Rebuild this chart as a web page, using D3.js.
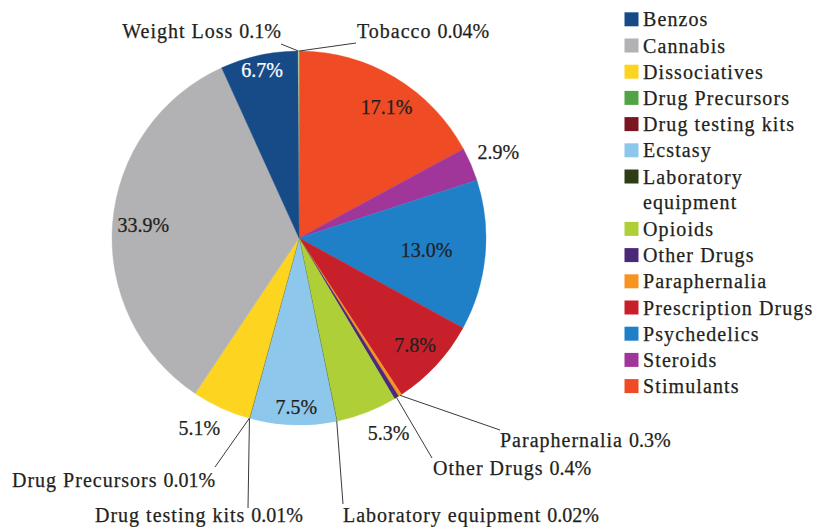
<!DOCTYPE html>
<html>
<head>
<meta charset="utf-8">
<script src="https://cdn.jsdelivr.net/npm/d3@7/dist/d3.min.js"></script>
</head>
<body style="margin:0;background:#fff">
<svg id="chart" width="815" height="527" style="display:block"></svg>
<script>
// Market share by listing category (percent of listings)
const categories = [
  "Benzos", "Cannabis", "Dissociatives", "Drug Precursors", "Drug testing kits",
  "Ecstasy", "Laboratory equipment", "Opioids", "Other Drugs", "Paraphernalia",
  "Prescription Drugs", "Psychedelics", "Steroids", "Stimulants", "Tobacco", "Weight Loss"
];
const shares = [6.7, 33.9, 5.1, 0.01, 0.01, 7.5, 0.02, 5.3, 0.4, 0.3, 7.8, 13.0, 2.9, 17.1, 0.04, 0.1];
const colors = [
  "#164b88", "#b2b2b5", "#fdd41f", "#52a344", "#7b1522",
  "#8dc8ec", "#2f3d17", "#aecf37", "#4a2a78", "#f79321",
  "#c7202a", "#1f80c8", "#a0369a", "#ef4b25", "#8fd18a", "#c9e6b0"
];
// Legend lists the first 14 categories; Laboratory equipment wraps to two lines
const legendLines = [
  ["Benzos"], ["Cannabis"], ["Dissociatives"], ["Drug Precursors"], ["Drug testing kits"],
  ["Ecstasy"], ["Laboratory", "equipment"], ["Opioids"], ["Other Drugs"], ["Paraphernalia"],
  ["Prescription Drugs"], ["Psychedelics"], ["Steroids"], ["Stimulants"]
];

const svg = d3.select("#chart");
const cx = 299, cy = 238, R = 187;
const fontSize = 20;
const ink = "#231f20";
const face = "Liberation Serif";

// Shared text styling (a hairline stroke gives the glyphs a slightly heavier weight)
const styleText = (sel, color = ink) => sel
  .attr("font-family", face)
  .attr("font-size", fontSize)
  .attr("fill", color)
  .attr("stroke", color)
  .attr("stroke-width", 0.25);

const rows = categories.map((c, i) => ({ name: c, value: shares[i], color: colors[i] }));
// Slices run clockwise in reverse category order, with the last slice ending just past 12 o'clock
const ordered = rows.slice().reverse();
const total = d3.sum(shares);
const start = -2 * Math.PI * ordered[0].value / total;

const pie = d3.pie().sort(null).value(d => d.value)
  .startAngle(start).endAngle(start + 2 * Math.PI);
const arcs = pie(ordered);
const arc = d3.arc().innerRadius(0).outerRadius(R);

const g = svg.append("g").attr("transform", `translate(${cx},${cy})`);
g.selectAll("path.slice").data(arcs).enter().append("path")
  .attr("class", "slice")
  .attr("d", arc)
  .attr("fill", d => d.data.color)
  .attr("stroke", d => d.data.color)
  .attr("stroke-width", 0.4);

const fmt = v => (v >= 1 ? v.toFixed(1) : String(v)) + "%";
const polar = (a, r) => [Math.sin(a) * r, -Math.cos(a) * r];
const mid = d => (d.startAngle + d.endAngle) / 2;

// Value labels placed along the slice bisector: radius factor and angular nudge (deg)
const valuePlacement = {
  "Benzos": { r: 0.92, da: 0, fill: "#ffffff" },
  "Cannabis": { r: 0.835, da: 0 },
  "Stimulants": { r: 0.84, da: 3 },
  "Psychedelics": { r: 0.685, da: 0 },
  "Prescription Drugs": { r: 0.845, da: 0 },
  "Ecstasy": { r: 0.905, da: -1 },
  "Steroids": { r: 1.16, da: 0 },
  "Opioids": { r: 1.15, da: -3.4 },
  "Dissociatives": { r: 1.15, da: 3 }
};
arcs.filter(d => valuePlacement[d.data.name]).forEach(d => {
  const p = valuePlacement[d.data.name];
  const [x, y] = polar(mid(d) + p.da * Math.PI / 180, R * p.r);
  g.append("text")
    .call(styleText, p.fill || ink)
    .attr("x", x).attr("y", y)
    .attr("dy", "0.34em")
    .attr("text-anchor", "middle")
    .text(fmt(d.data.value));
});

// Small slices get a name label with a leader line
const callouts = {
  "Weight Loss": { x: 281, y: 37.5, anchor: "end", lx: 281, ly: 44 },
  "Tobacco": { x: 357, y: 37.5, anchor: "start", lx: 356, ly: 43 },
  "Paraphernalia": { x: 500, y: 447, anchor: "start", lx: 500, ly: 430 },
  "Other Drugs": { x: 433, y: 475, anchor: "start", lx: 432, ly: 458 },
  "Laboratory equipment": { x: 343, y: 521.5, anchor: "start", lx: 343, ly: 504 },
  "Drug testing kits": { x: 95, y: 521.5, anchor: "start", lx: 248, ly: 508 },
  "Drug Precursors": { x: 12, y: 486.5, anchor: "start", lx: 215, ly: 467 }
};
arcs.filter(d => callouts[d.data.name]).forEach(d => {
  const c = callouts[d.data.name];
  const [px, py] = polar(mid(d), R);
  svg.append("line")
    .attr("x1", cx + px).attr("y1", cy + py)
    .attr("x2", c.lx).attr("y2", c.ly)
    .attr("stroke", "#3a3a3a").attr("stroke-width", 1);
  const t = svg.append("text")
    .call(styleText)
    .attr("x", c.x).attr("y", c.y)
    .attr("text-anchor", c.anchor);
  t.append("tspan").attr("letter-spacing", 1).text(d.data.name + " ");
  t.append("tspan").text(fmt(d.data.value));
});

// Legend
const lg = svg.append("g");
const lineH = 26.2, firstRowY = 19.3;
let line = 0;
legendLines.forEach((lines, i) => {
  const yc = firstRowY + line * lineH;
  lg.append("rect")
    .attr("x", 624.5).attr("y", yc - 7)
    .attr("width", 14).attr("height", 14)
    .attr("fill", colors[i]);
  lines.forEach((s, k) => {
    lg.append("text")
      .call(styleText)
      .attr("x", 643).attr("y", yc + k * (lineH - 1) + 7)
      .attr("letter-spacing", 1.1)
      .text(s);
  });
  line += lines.length;
});
</script>
</body>
</html>
